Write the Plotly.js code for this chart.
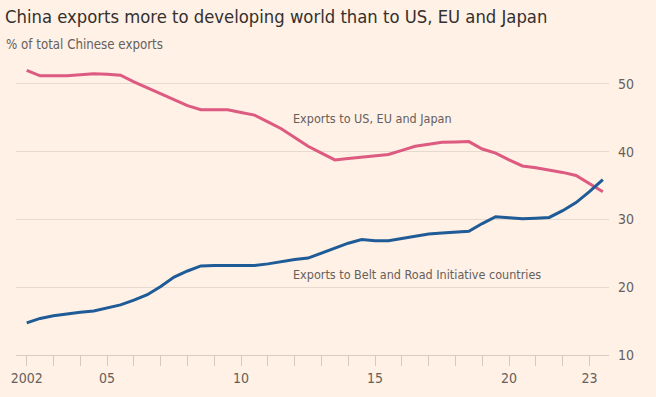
<!DOCTYPE html>
<html>
<head>
<meta charset="utf-8">
<script src="https://cdn.plot.ly/plotly-3.0.1.min.js"></script>
<style>
  html, body { margin: 0; padding: 0; background: #fff1e5; }
  #chart { width: 656px; height: 397px; }
</style>
</head>
<body>
<div id="chart"></div>
<script>
// Half-yearly observations (decimal years)
const years = [
  2002.0, 2002.5, 2003.0, 2003.5, 2004.0, 2004.5, 2005.0, 2005.5,
  2006.0, 2006.5, 2007.0, 2007.5, 2008.0, 2008.5, 2009.0, 2009.5,
  2010.0, 2010.5, 2011.0, 2011.5, 2012.0, 2012.5, 2013.0, 2013.5,
  2014.0, 2014.5, 2015.0, 2015.5, 2016.0, 2016.5, 2017.0, 2017.5,
  2018.0, 2018.5, 2019.0, 2019.5, 2020.0, 2020.5, 2021.0, 2021.5,
  2022.0, 2022.5, 2023.0, 2023.5
];

// % of total Chinese exports to US, EU and Japan
const usEuJapan = [
  52.0, 51.2, 51.2, 51.2, 51.35, 51.5, 51.45, 51.3,
  50.3, 49.4, 48.5, 47.6, 46.8, 46.2, 46.2, 46.2,
  45.8, 45.4, 44.4, 43.4, 42.1, 40.8, 39.8, 38.8,
  39.0, 39.2, 39.35, 39.6, 40.2, 40.8, 41.1, 41.4,
  41.45, 41.5, 40.4, 39.8, 38.8, 37.9, 37.65, 37.35,
  36.95, 36.5, 35.3, 34.1
];

// % of total Chinese exports to Belt and Road Initiative countries
const beltRoad = [
  14.75, 15.4, 15.8, 16.1, 16.3, 16.5, 16.9, 17.4,
  18.1, 18.9, 20.1, 21.5, 22.4, 23.15, 23.2, 23.2,
  23.2, 23.2, 23.45, 23.8, 24.1, 24.3, 25.0, 25.8,
  26.5, 27.05, 26.85, 26.85, 27.2, 27.6, 27.85, 28.0,
  28.15, 28.25, 29.4, 30.4, 30.25, 30.1, 30.2, 30.3,
  31.3, 32.5, 34.1, 35.9
];

const xTickVals = [2002, 2005, 2010, 2015, 2020, 2023];
const xTickText = ["2002", "05", "10", "15", "20", "23"];
const yTickVals = [10, 20, 30, 40, 50];

const titleText = "China exports more to developing world than to US, EU and Japan";
const subtitleText = "% of total Chinese exports";
const labelUs = "Exports to US, EU and Japan";
const labelBri = "Exports to Belt and Road Initiative countries";

const FONT = "'Liberation Sans Narrow', 'DejaVu Sans Condensed', 'Roboto', sans-serif";
const TXT = "#66605c";
const GRID = "#e6d9ce";

const traces = [
  {
    x: years, y: usEuJapan, type: "scatter", mode: "lines",
    line: { color: "#dd5a80", width: 3 }, hoverinfo: "skip"
  },
  {
    x: years, y: beltRoad, type: "scatter", mode: "lines",
    line: { color: "#1e5b97", width: 3 }, hoverinfo: "skip"
  }
];

const layout = {
  width: 656, height: 397,
  paper_bgcolor: "#fff1e5", plot_bgcolor: "#fff1e5",
  margin: { l: 16, r: 47, t: 60, b: 42 },
  showlegend: false,
  font: { family: FONT, color: TXT, size: 14 },
  title: {
    text: titleText,
    font: { family: FONT, size: 18.3, color: "#33302e" },
    xref: "container", yref: "container",
    x: 5 / 656, xanchor: "left",
    y: 1 - 17 / 397, yanchor: "middle"
  },
  xaxis: {
    range: [2001.6, 2023.73],
    tickmode: "array", tickvals: xTickVals, ticktext: xTickText,
    ticks: "outside", ticklen: 10, tickcolor: "#d6cabf", tickwidth: 1,
    minor: { tickmode: "linear", tick0: 2002, dtick: 1, ticks: "outside", ticklen: 10, tickcolor: "#d6cabf", tickwidth: 1, showgrid: false },
    showgrid: false, zeroline: false,
    showline: true, linecolor: "#d9ccc1", linewidth: 1,
    tickfont: { family: FONT, size: 14, color: TXT },
    fixedrange: true
  },
  yaxis: {
    side: "right",
    range: [10, 53.54],
    tickmode: "array", tickvals: yTickVals,
    ticks: "", ticklabelstandoff: 8,
    showgrid: true, gridcolor: GRID, gridwidth: 1,
    zeroline: false, showline: false,
    tickfont: { family: FONT, size: 14, color: TXT },
    fixedrange: true
  },
  annotations: [
    {
      text: subtitleText, xref: "paper", yref: "paper",
      x: -12 / 593, xanchor: "left", y: 1 + 15 / 295, yanchor: "middle",
      showarrow: false, font: { family: FONT, size: 13.2, color: TXT }
    },
    {
      text: labelUs, xref: "x", yref: "y",
      x: 2011.85, xanchor: "left", y: 44.95, yanchor: "middle",
      showarrow: false, font: { family: FONT, size: 12.5, color: TXT }
    },
    {
      text: labelBri, xref: "x", yref: "y",
      x: 2011.85, xanchor: "left", y: 21.9, yanchor: "middle",
      showarrow: false, font: { family: FONT, size: 12.5, color: TXT }
    }
  ]
};

Plotly.newPlot("chart", traces, layout, { displayModeBar: false, staticPlot: true });
</script>
</body>
</html>
